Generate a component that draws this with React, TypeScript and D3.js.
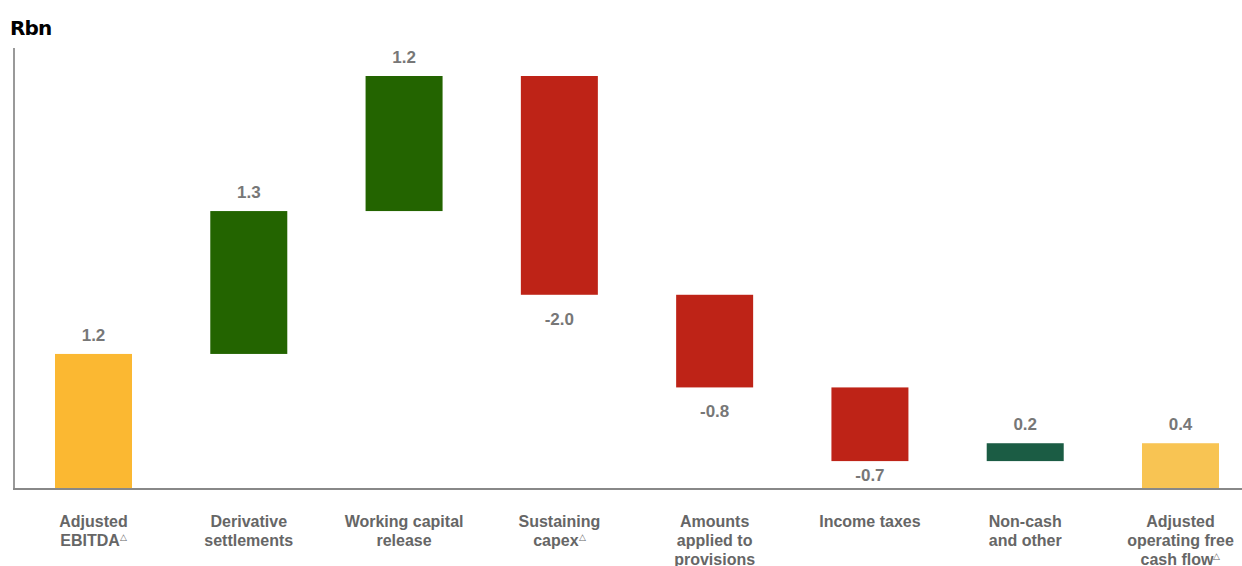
import React from "react";
import * as d3 from "d3";

const categories: string[][] = [
  ["Adjusted", "EBITDA△"],
  ["Derivative", "settlements"],
  ["Working capital", "release"],
  ["Sustaining", "capex△"],
  ["Amounts", "applied to", "provisions"],
  ["Income taxes"],
  ["Non-cash", "and other"],
  ["Adjusted", "operating free", "cash flow△"],
];
const values: number[] = [1.21, 1.28, 1.21, -1.96, -0.83, -0.66, 0.16, 0.41];
const kinds: string[] = ["total", "delta", "delta", "delta", "delta", "delta", "delta", "total"];
const colors: string[] = ["#FBB832", "#236400", "#236400", "#BE2317", "#BE2317", "#BE2317", "#1B5C44", "#F8C453"];

const W = 1242;
const H = 566;

function Label({ text, x, y }: { text: string; x: number; y: number }) {
  const parts = text.split("△");
  return (
    <text x={x} y={y} textAnchor="middle">
      {parts[0]}
      {parts.length > 1 ? (
        <tspan fontSize={9} fontWeight="normal" dy={-6}>△</tspan>
      ) : null}
    </text>
  );
}

export default function App() {
  const x = d3.scalePoint<number>().domain(d3.range(values.length)).range([93.5, 1180.5]);
  const y = d3.scaleLinear().domain([0, 3.7]).range([489, 76]);
  const barW = 77;

  let run = 0;
  const bars = values.map((v, i) => {
    let start: number, end: number;
    if (kinds[i] === "total") {
      start = 0;
      end = v;
      run = v;
    } else {
      start = run;
      end = run + v;
      run = end;
    }
    return { i, v, start, end };
  });

  return (
    <svg width={W} height={H} style={{ position: "absolute", left: 0, top: 0, background: "#fff" }}
      fontFamily="'Liberation Sans', Arial, sans-serif">
      <text x={10} y={35} fontSize={20} fontWeight="bold" fill="#000" fontFamily="'DejaVu Sans', sans-serif" letterSpacing={-0.8}>Rbn</text>
      {bars.map((b) => {
        const top = y(Math.max(b.start, b.end));
        const bot = y(Math.min(b.start, b.end));
        const cx = x(b.i) as number;
        const label = b.v.toFixed(1);
        return (
          <g key={b.i}>
            <rect x={cx - barW / 2} y={top} width={barW} height={bot - top} fill={colors[b.i]} />
            <text x={cx} y={b.v >= 0 ? top - 13 : Math.min(bot + 30, y(0) - 8)} textAnchor="middle" fontSize={17}
              fontWeight="bold" fill="#777">{label}</text>
          </g>
        );
      })}
      <line x1={14} x2={14} y1={48} y2={490} stroke="#999" strokeWidth={2} />
      <line x1={13} x2={W} y1={489} y2={489} stroke="#888" strokeWidth={2} />
      <g fontSize={16} fontWeight="bold" fill="#666">
        {categories.map((lines, i) => (
          <g key={i}>
            {lines.map((ln, j) => (
              <Label key={j} text={ln} x={x(i) as number} y={527 + j * 19} />
            ))}
          </g>
        ))}
      </g>
    </svg>
  );
}
